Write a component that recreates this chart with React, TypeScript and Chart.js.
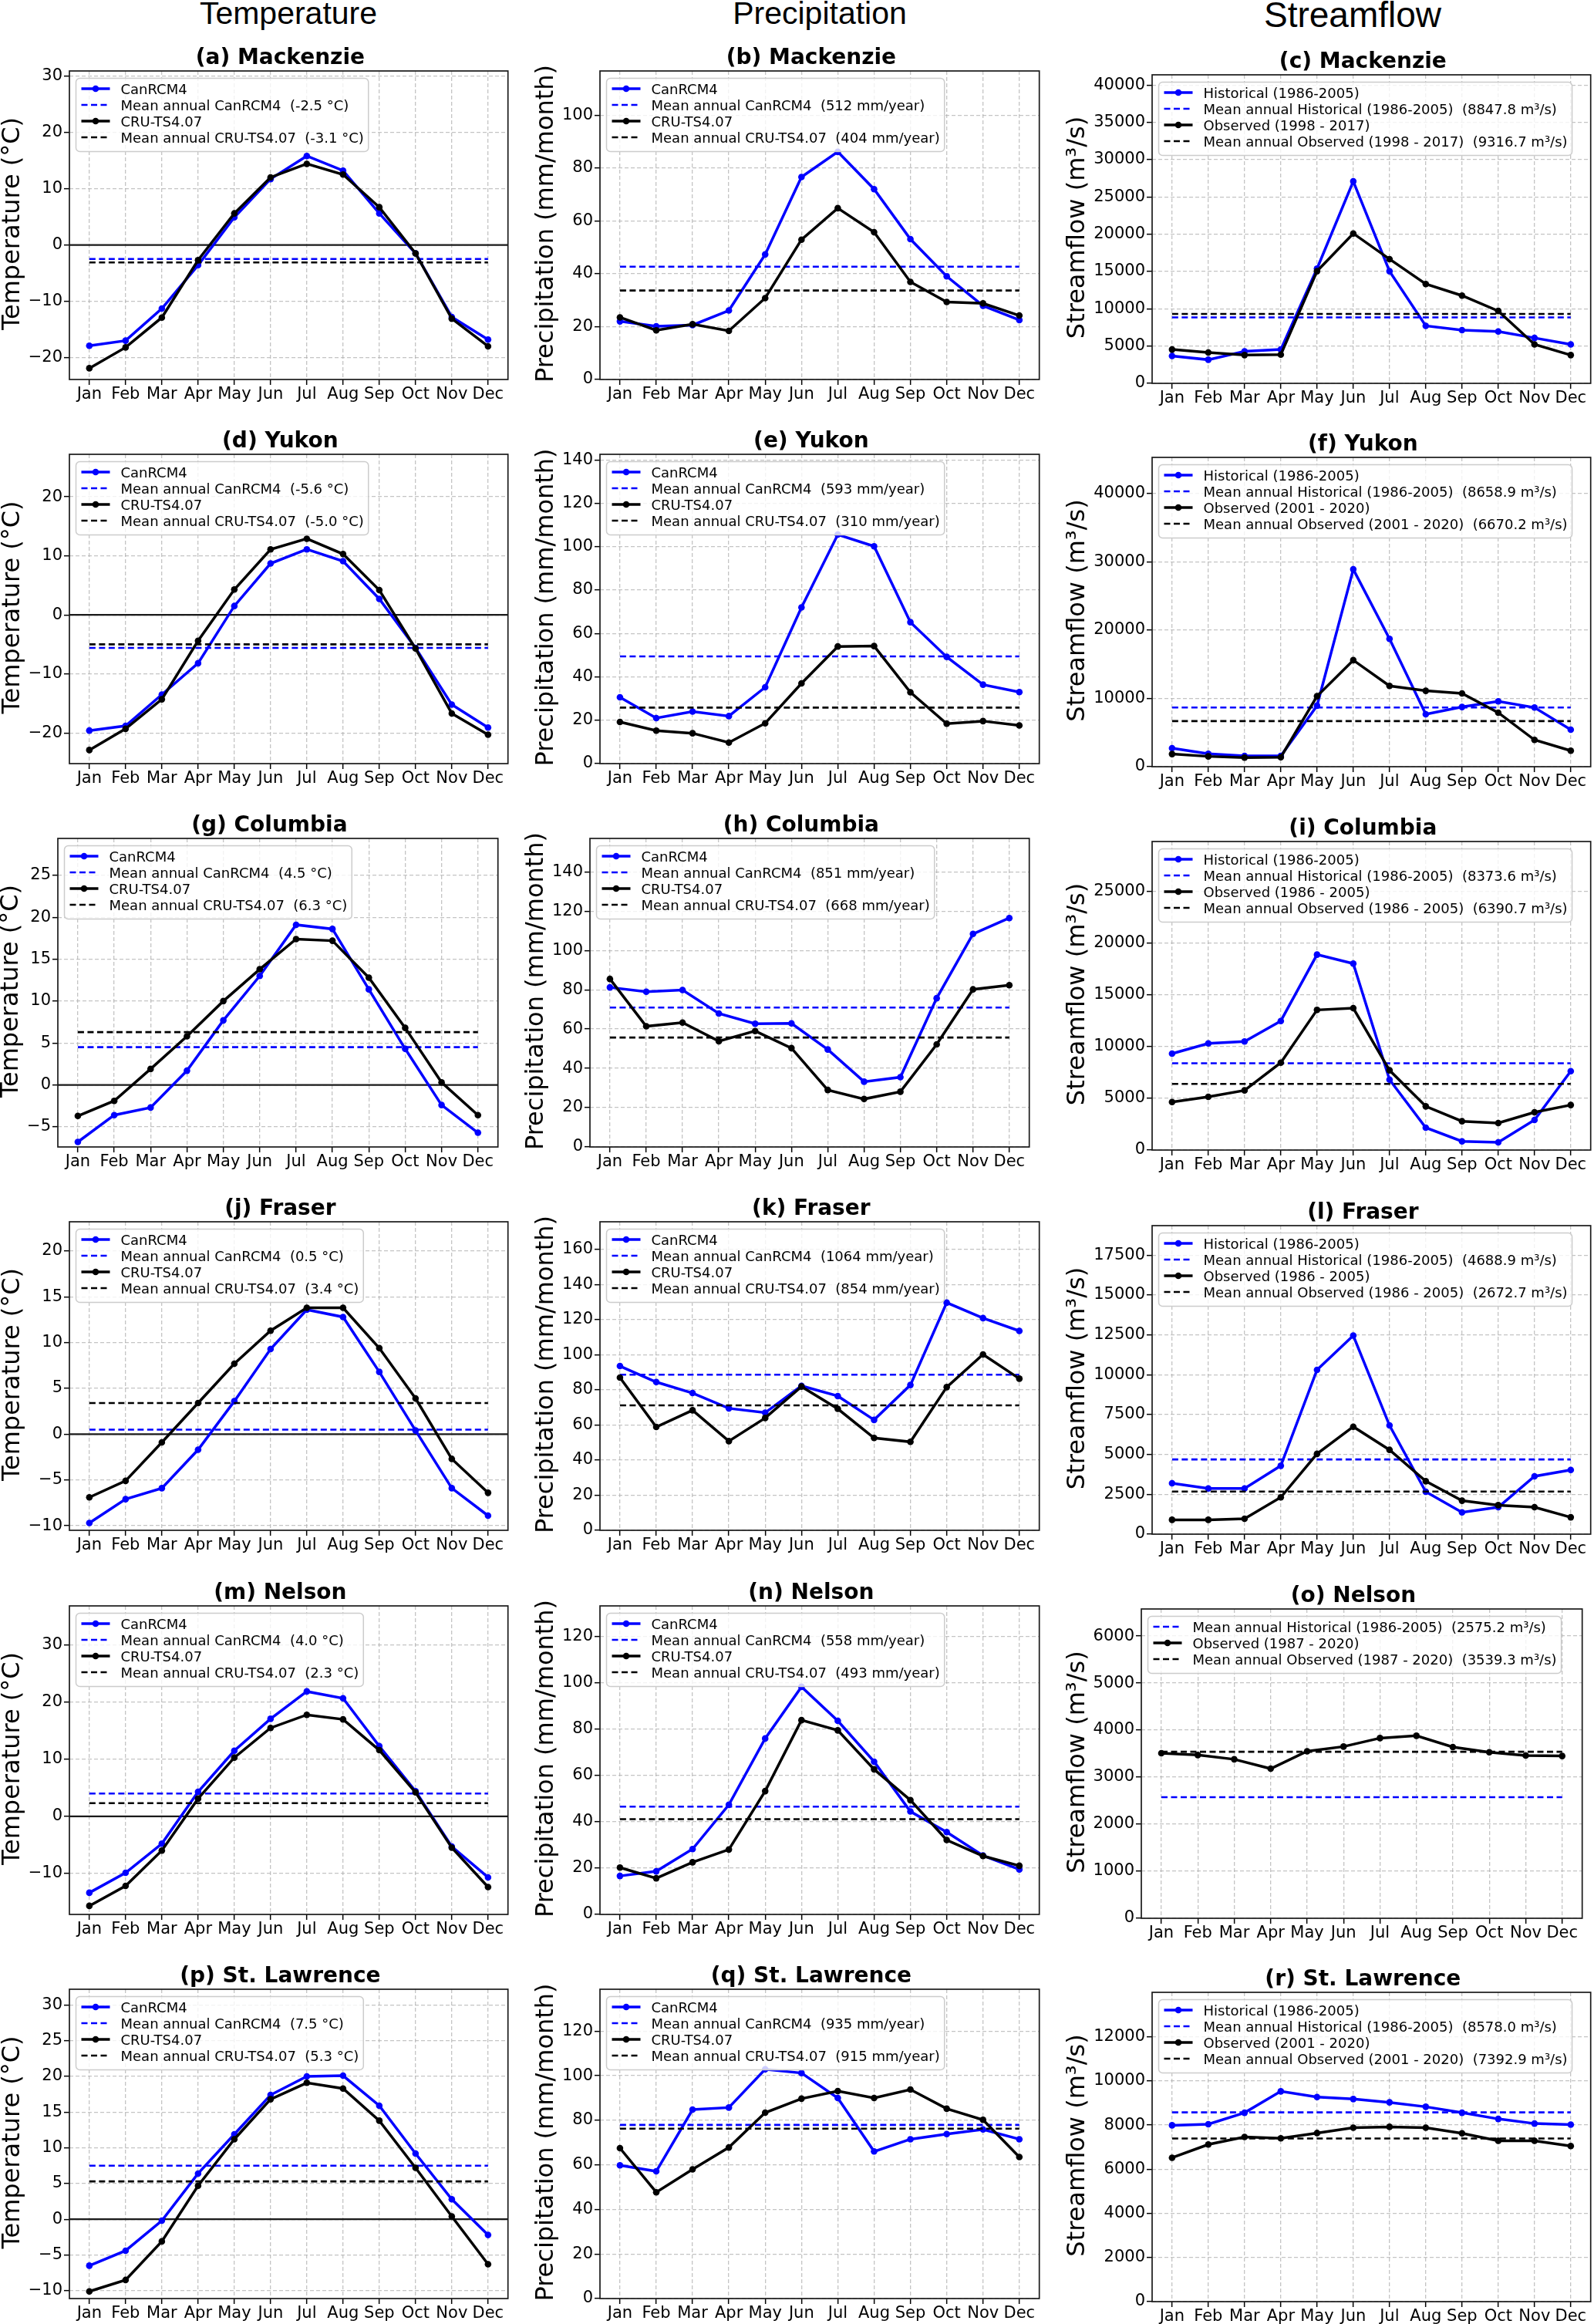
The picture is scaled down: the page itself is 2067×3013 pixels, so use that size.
import React, { useEffect, useRef } from 'react';
import { Chart, registerables } from 'chart.js';

Chart.register(...registerables);

const FONT = "'DejaVu Sans'";

const months = ['Jan', 'Feb', 'Mar', 'Apr', 'May', 'Jun', 'Jul', 'Aug', 'Sep', 'Oct', 'Nov', 'Dec'];
const basins = ['Mackenzie', 'Yukon', 'Columbia', 'Fraser', 'Nelson', 'St. Lawrence'];
const letters = ['a', 'b', 'c', 'd', 'e', 'f', 'g', 'h', 'i', 'j', 'k', 'l', 'm', 'n', 'o', 'p', 'q', 'r'];
const columnHeaders = ['Temperature', 'Precipitation', 'Streamflow'];

// ---------- Temperature (°C) ----------
const tempCanMackenzie = [-17.9, -17.0, -11.3, -3.6, 4.9, 11.7, 15.8, 13.2, 5.6, -1.5, -12.8, -16.8];
const tempCruMackenzie = [-21.9, -18.2, -12.9, -2.7, 5.6, 12.0, 14.4, 12.5, 6.7, -1.5, -13.1, -18.0];
const tempCanYukon = [-19.6, -18.8, -13.5, -8.2, 1.5, 8.7, 11.1, 9.1, 2.7, -5.6, -15.2, -19.1];
const tempCruYukon = [-22.9, -19.3, -14.3, -4.4, 4.3, 11.1, 12.9, 10.3, 4.2, -5.7, -16.7, -20.3];
const tempCanColumbia = [-6.8, -3.6, -2.7, 1.7, 7.7, 13.0, 19.1, 18.6, 11.4, 4.3, -2.4, -5.7];
const tempCruColumbia = [-3.7, -1.9, 1.9, 5.8, 10.0, 13.8, 17.4, 17.2, 12.8, 6.8, 0.3, -3.6];
const tempCanFraser = [-9.7, -7.1, -5.9, -1.7, 3.6, 9.3, 13.6, 12.8, 6.8, 0.4, -5.9, -8.9];
const tempCruFraser = [-6.9, -5.1, -0.9, 3.4, 7.7, 11.3, 13.8, 13.8, 9.4, 3.9, -2.7, -6.4];
const tempCanNelson = [-13.4, -9.9, -4.8, 4.3, 11.5, 17.1, 21.9, 20.7, 12.3, 4.4, -5.3, -10.7];
const tempCruNelson = [-15.7, -12.2, -6.0, 3.1, 10.3, 15.5, 17.8, 17.0, 11.6, 4.2, -5.5, -12.4];
const tempCanStLawrence = [-6.5, -4.4, -0.2, 6.4, 11.9, 17.4, 20.0, 20.1, 15.9, 9.2, 2.8, -2.2];
const tempCruStLawrence = [-10.1, -8.5, -3.1, 4.7, 11.2, 16.8, 19.1, 18.3, 13.8, 7.2, 0.4, -6.3];
const tempMeanCan = [-2.5, -5.6, 4.5, 0.5, 4.0, 7.5];
const tempMeanCru = [-3.1, -5.0, 6.3, 3.4, 2.3, 5.3];

// ---------- Precipitation (mm/month) ----------
const precCanMackenzie = [22.0, 20.1, 20.6, 26.1, 47.3, 76.6, 86.1, 72.0, 53.1, 39.0, 27.9, 22.5];
const precCruMackenzie = [23.5, 18.6, 20.9, 18.4, 30.8, 52.9, 64.8, 55.7, 36.9, 29.3, 28.8, 24.2];
const precCanYukon = [30.6, 21.0, 24.0, 21.9, 35.2, 72.0, 105.6, 100.2, 65.2, 49.2, 36.4, 33.0];
const precCruYukon = [19.2, 15.2, 14.0, 9.7, 18.6, 37.0, 54.0, 54.2, 32.9, 18.4, 19.6, 17.6];
const precCanColumbia = [81.2, 79.0, 79.9, 67.9, 62.7, 62.9, 49.6, 33.2, 35.5, 75.7, 108.4, 116.5];
const precCruColumbia = [85.5, 61.4, 63.3, 53.8, 59.0, 50.3, 29.0, 24.4, 28.1, 52.2, 80.2, 82.3];
const precCanFraser = [93.6, 84.5, 78.2, 69.5, 67.0, 82.3, 76.5, 62.9, 82.8, 129.7, 120.9, 113.6];
const precCruFraser = [87.0, 58.9, 68.4, 50.8, 64.0, 81.9, 69.2, 52.6, 50.4, 81.6, 100.2, 86.4];
const precCanNelson = [16.6, 18.6, 28.2, 47.3, 75.9, 98.2, 83.5, 65.9, 44.4, 35.5, 25.4, 19.4];
const precCruNelson = [20.2, 15.6, 22.5, 28.0, 53.2, 83.8, 79.4, 62.6, 49.3, 32.1, 25.2, 21.0];
const precCanStLawrence = [59.8, 57.1, 84.8, 85.7, 102.9, 101.2, 90.0, 66.0, 71.5, 73.8, 75.9, 71.5];
const precCruStLawrence = [67.5, 47.7, 58.0, 67.8, 83.4, 89.7, 93.1, 90.0, 93.8, 85.2, 80.2, 63.5];
const precAnnualCan = [512, 593, 851, 1064, 558, 935];
const precAnnualCru = [404, 310, 668, 854, 493, 915];

// ---------- Streamflow (m³/s) ----------
const flowHistMackenzie = [3680, 3170, 4300, 4540, 15390, 27090, 15040, 7710, 7130, 6950, 6090, 5230];
const flowObsMackenzie = [4540, 4130, 3790, 3860, 15040, 20100, 16660, 13320, 11770, 9710, 5230, 3790];
const flowHistYukon = [2710, 1880, 1580, 1580, 8930, 28890, 18720, 7680, 8740, 9570, 8660, 5420];
const flowObsYukon = [1850, 1510, 1320, 1390, 10320, 15590, 11830, 11110, 10730, 7910, 3920, 2340];
const flowHistColumbia = [9310, 10300, 10480, 12460, 18870, 18000, 6800, 2160, 840, 750, 2910, 7620];
const flowObsColumbia = [4640, 5140, 5760, 8440, 13530, 13700, 7700, 4220, 2780, 2610, 3650, 4350];
const flowHistFraser = [3190, 2870, 2870, 4290, 10310, 12460, 6820, 2660, 1370, 1690, 3630, 4030];
const flowObsFraser = [900, 900, 970, 2310, 5040, 6740, 5290, 3320, 2100, 1820, 1690, 1060];
const flowObsNelson = [3510, 3470, 3380, 3180, 3550, 3650, 3830, 3880, 3640, 3530, 3460, 3450];
const flowHistStLawrence = [7990, 8040, 8560, 9530, 9270, 9180, 9030, 8830, 8560, 8280, 8070, 8020];
const flowObsStLawrence = [6520, 7120, 7460, 7400, 7640, 7880, 7920, 7880, 7630, 7290, 7290, 7050];
const flowMeanHist = [8847.8, 8658.9, 8373.6, 4688.9, 2575.2, 8578.0];
const flowMeanObs = [9316.7, 6670.2, 6390.7, 2672.7, 3539.3, 7392.9];
const obsPeriods = ['1998 - 2017', '2001 - 2020', '1986 - 2005', '1986 - 2005', '1987 - 2020', '2001 - 2020'];

const tempCan = [tempCanMackenzie, tempCanYukon, tempCanColumbia, tempCanFraser, tempCanNelson, tempCanStLawrence];
const tempCru = [tempCruMackenzie, tempCruYukon, tempCruColumbia, tempCruFraser, tempCruNelson, tempCruStLawrence];
const precCan = [precCanMackenzie, precCanYukon, precCanColumbia, precCanFraser, precCanNelson, precCanStLawrence];
const precCru = [precCruMackenzie, precCruYukon, precCruColumbia, precCruFraser, precCruNelson, precCruStLawrence];
const flowHist = [flowHistMackenzie, flowHistYukon, flowHistColumbia, flowHistFraser, null, flowHistStLawrence];
const flowObs = [flowObsMackenzie, flowObsYukon, flowObsColumbia, flowObsFraser, flowObsNelson, flowObsStLawrence];

// ---------- Axis ticks ----------
const tempTicks = [
  [-20, -10, 0, 10, 20, 30],
  [-20, -10, 0, 10, 20],
  [-5, 0, 5, 10, 15, 20, 25],
  [-10, -5, 0, 5, 10, 15, 20],
  [-10, 0, 10, 20, 30],
  [-10, -5, 0, 5, 10, 15, 20, 25, 30],
];
const precTicks = [
  [0, 20, 40, 60, 80, 100],
  [0, 20, 40, 60, 80, 100, 120, 140],
  [0, 20, 40, 60, 80, 100, 120, 140],
  [0, 20, 40, 60, 80, 100, 120, 140, 160],
  [0, 20, 40, 60, 80, 100, 120],
  [0, 20, 40, 60, 80, 100, 120],
];
const flowTicks = [
  [0, 5000, 10000, 15000, 20000, 25000, 30000, 35000, 40000],
  [0, 10000, 20000, 30000, 40000],
  [0, 5000, 10000, 15000, 20000, 25000],
  [0, 2500, 5000, 7500, 10000, 12500, 15000, 17500],
  [0, 1000, 2000, 3000, 4000, 5000, 6000],
  [0, 2000, 4000, 6000, 8000, 10000, 12000],
];

// ---------- Axis limits ----------
const tempRange = [[-23.9, 30.9], [-25.2, 27.2], [-7.4, 29.4], [-10.5, 23.2], [-17.2, 36.9], [-11.1, 32.2]];
const precMax = [116.7, 142.6, 157, 175.8, 133.1, 138.8];
const flowMax = [41377, 45273, 29791, 19355, 6575, 14016];

// ---------- Layout (plot boxes: left, top, right, bottom) ----------
const boxes = [
  [[90, 92, 659, 492], [778, 92, 1348, 492], [1494, 97, 2063, 497]],
  [[90, 589, 659, 990], [778, 589, 1348, 990], [1494, 593, 2063, 994]],
  [[75, 1087, 646, 1487], [765, 1087, 1335, 1487], [1494, 1091, 2063, 1491]],
  [[90, 1584, 659, 1984], [778, 1584, 1348, 1984], [1494, 1589, 2063, 1989]],
  [[90, 2082, 659, 2482], [778, 2082, 1348, 2482], [1480, 2086, 2052, 2487]],
  [[90, 2579, 659, 2980], [778, 2579, 1348, 2980], [1494, 2583, 2063, 2984]],
];

type Series = { label: string; values: number[]; color: string; dashed: boolean };
type Spec = {
  key: string;
  box: number[];
  title: string;
  yLabel: string;
  yMin: number;
  yMax: number;
  yTicks: number[];
  series: Series[];
  zeroLine: boolean;
};

const flat = (v: number) => months.map(() => v);

function buildSpecs(): Spec[] {
  const specs: Spec[] = [];
  for (let r = 0; r < 6; r++) {
    const basin = basins[r];
    specs.push({
      key: 't' + r,
      box: boxes[r][0],
      title: `(${letters[r * 3]}) ${basin}`,
      yLabel: 'Temperature (°C)',
      yMin: tempRange[r][0],
      yMax: tempRange[r][1],
      yTicks: tempTicks[r],
      zeroLine: true,
      series: [
        { label: 'CanRCM4', values: tempCan[r], color: '#0000ff', dashed: false },
        { label: `Mean annual CanRCM4  (${tempMeanCan[r].toFixed(1)} °C)`, values: flat(tempMeanCan[r]), color: '#0000ff', dashed: true },
        { label: 'CRU-TS4.07', values: tempCru[r], color: '#000000', dashed: false },
        { label: `Mean annual CRU-TS4.07  (${tempMeanCru[r].toFixed(1)} °C)`, values: flat(tempMeanCru[r]), color: '#000000', dashed: true },
      ],
    });
    specs.push({
      key: 'p' + r,
      box: boxes[r][1],
      title: `(${letters[r * 3 + 1]}) ${basin}`,
      yLabel: 'Precipitation (mm/month)',
      yMin: 0,
      yMax: precMax[r],
      yTicks: precTicks[r],
      zeroLine: false,
      series: [
        { label: 'CanRCM4', values: precCan[r], color: '#0000ff', dashed: false },
        { label: `Mean annual CanRCM4  (${precAnnualCan[r]} mm/year)`, values: flat(precAnnualCan[r] / 12), color: '#0000ff', dashed: true },
        { label: 'CRU-TS4.07', values: precCru[r], color: '#000000', dashed: false },
        { label: `Mean annual CRU-TS4.07  (${precAnnualCru[r]} mm/year)`, values: flat(precAnnualCru[r] / 12), color: '#000000', dashed: true },
      ],
    });
    const fs: Series[] = [];
    const hist = flowHist[r];
    if (hist) fs.push({ label: 'Historical (1986-2005)', values: hist, color: '#0000ff', dashed: false });
    fs.push({ label: `Mean annual Historical (1986-2005)  (${flowMeanHist[r].toFixed(1)} m³/s)`, values: flat(flowMeanHist[r]), color: '#0000ff', dashed: true });
    fs.push({ label: `Observed (${obsPeriods[r]})`, values: flowObs[r], color: '#000000', dashed: false });
    fs.push({ label: `Mean annual Observed (${obsPeriods[r]})  (${flowMeanObs[r].toFixed(1)} m³/s)`, values: flat(flowMeanObs[r]), color: '#000000', dashed: true });
    specs.push({
      key: 'f' + r,
      box: boxes[r][2],
      title: `(${letters[r * 3 + 2]}) ${basin}`,
      yLabel: 'Streamflow (m³/s)',
      yMin: 0,
      yMax: flowMax[r],
      yTicks: flowTicks[r],
      zeroLine: false,
      series: fs,
    });
  }
  return specs;
}

const fmtTick = (v: number) => (v < 0 ? '\u2212' + Math.abs(v) : String(v));

const LINE_W = 3.5;
const MEAN_W = 2.6;
const DASH = [8, 4.5];
const POINT_R = 4.3;

function decorPlugin(s: Spec) {
  return {
    id: 'decor',
    beforeDatasetsDraw(chart: any) {
      if (!s.zeroLine) return;
      const { ctx, chartArea: ca } = chart;
      const y = chart.scales.y.getPixelForValue(0);
      ctx.save();
      ctx.strokeStyle = '#1a1a1a';
      ctx.lineWidth = 2.2;
      ctx.beginPath();
      ctx.moveTo(ca.left, y);
      ctx.lineTo(ca.right, y);
      ctx.stroke();
      ctx.restore();
    },
    afterDatasetsDraw(chart: any) {
      const { ctx, chartArea: ca } = chart;
      ctx.save();
      ctx.strokeStyle = '#1a1a1a';
      ctx.lineWidth = 1.7;
      ctx.strokeRect(ca.left, ca.top, ca.right - ca.left, ca.bottom - ca.top);
      ctx.restore();
    },
    afterDraw(chart: any) {
      const { ctx, chartArea: ca } = chart;
      ctx.save();
      // legend
      ctx.font = `18px ${FONT}`;
      const entries = s.series;
      const pad = 7, handleLen = 37, textPad = 14, rowH = 21;
      const maxW = Math.max(...entries.map((e) => ctx.measureText(e.label).width));
      const fx = ca.left + 8.5;
      const fy = ca.top + 9.5;
      const fw = pad + handleLen + textPad + maxW + 6;
      const fh = entries.length * rowH + 11;
      const rad = 5;
      ctx.beginPath();
      ctx.moveTo(fx + rad, fy);
      ctx.lineTo(fx + fw - rad, fy);
      ctx.arcTo(fx + fw, fy, fx + fw, fy + rad, rad);
      ctx.lineTo(fx + fw, fy + fh - rad);
      ctx.arcTo(fx + fw, fy + fh, fx + fw - rad, fy + fh, rad);
      ctx.lineTo(fx + rad, fy + fh);
      ctx.arcTo(fx, fy + fh, fx, fy + fh - rad, rad);
      ctx.lineTo(fx, fy + rad);
      ctx.arcTo(fx, fy, fx + rad, fy, rad);
      ctx.closePath();
      ctx.fillStyle = 'rgba(255,255,255,0.8)';
      ctx.fill();
      ctx.strokeStyle = '#cccccc';
      ctx.lineWidth = 1.5;
      ctx.stroke();
      entries.forEach((e, i) => {
        const base = fy + 20 + i * rowH;
        const hy = base - 6.5;
        const hx = fx + pad;
        ctx.strokeStyle = e.color;
        ctx.lineWidth = e.dashed ? MEAN_W : LINE_W;
        ctx.setLineDash(e.dashed ? DASH : []);
        ctx.beginPath();
        ctx.moveTo(hx, hy);
        ctx.lineTo(hx + handleLen, hy);
        ctx.stroke();
        ctx.setLineDash([]);
        if (!e.dashed) {
          ctx.fillStyle = e.color;
          ctx.beginPath();
          ctx.arc(hx + handleLen / 2, hy, POINT_R, 0, Math.PI * 2);
          ctx.fill();
        }
        ctx.fillStyle = '#000';
        ctx.textAlign = 'left';
        ctx.textBaseline = 'alphabetic';
        ctx.fillText(e.label, hx + handleLen + textPad, base);
      });
      // title
      ctx.font = `bold 28px ${FONT}`;
      ctx.fillStyle = '#000';
      ctx.textAlign = 'center';
      ctx.textBaseline = 'alphabetic';
      ctx.fillText(s.title, (ca.left + ca.right) / 2 - 11, ca.top - 9);
      // y label
      ctx.font = `21px ${FONT}`;
      const tickW = Math.max(...s.yTicks.map((v) => ctx.measureText(fmtTick(v)).width));
      ctx.font = `32px ${FONT}`;
      ctx.translate(ca.left - tickW - 21, (ca.top + ca.bottom) / 2 - 2);
      ctx.rotate(-Math.PI / 2);
      ctx.textAlign = 'center';
      ctx.textBaseline = 'alphabetic';
      ctx.fillText(s.yLabel, 0, 0);
      ctx.restore();
    },
  };
}

function makeConfig(s: Spec, yWidth: number): any {
  const n = s.series.length;
  const gridCommon = {
    color: 'rgba(176,176,176,0.75)',
    lineWidth: 1.3,
    drawTicks: true,
    tickLength: 7,
    tickColor: '#000',
    tickWidth: 1.5,
  };
  return {
    type: 'line',
    data: {
      datasets: s.series.map((se, i) => ({
        label: se.label,
        data: se.values.map((v, j) => ({ x: j, y: v })),
        borderColor: se.color,
        backgroundColor: se.color,
        borderWidth: se.dashed ? MEAN_W : LINE_W,
        borderDash: se.dashed ? DASH : [],
        pointRadius: se.dashed ? 0 : POINT_R,
        pointHoverRadius: 0,
        pointBorderWidth: 0,
        pointBackgroundColor: se.color,
        tension: 0,
        fill: false,
        order: n - i,
      })),
    },
    options: {
      animation: false,
      responsive: false,
      devicePixelRatio: 1,
      events: [],
      layout: { padding: { left: 0, top: 60, right: 4, bottom: 0 } },
      plugins: {
        legend: { display: false },
        title: { display: false },
        tooltip: { enabled: false },
      },
      scales: {
        x: {
          type: 'linear',
          min: -0.55,
          max: 11.55,
          afterBuildTicks: (sc: any) => {
            sc.ticks = months.map((_, i) => ({ value: i }));
          },
          afterFit: (sc: any) => {
            sc.height = 40;
          },
          ticks: {
            autoSkip: false,
            maxRotation: 0,
            minRotation: 0,
            padding: 0,
            color: '#000',
            font: { size: 21, family: FONT },
            callback: (v: any) => months[Math.round(Number(v))] ?? '',
          },
          grid: gridCommon,
          border: { display: false, dash: [5, 3] },
        },
        y: {
          type: 'linear',
          min: s.yMin,
          max: s.yMax,
          afterBuildTicks: (sc: any) => {
            sc.ticks = s.yTicks.map((v) => ({ value: v }));
          },
          afterFit: (sc: any) => {
            sc.width = yWidth;
          },
          ticks: {
            autoSkip: false,
            padding: 2,
            color: '#000',
            font: { size: 21, family: FONT },
            callback: (v: any) => fmtTick(Number(v)),
          },
          grid: gridCommon,
          border: { display: false, dash: [5, 3] },
        },
      },
    },
    plugins: [decorPlugin(s)],
  };
}

function Panel({ spec }: { spec: Spec }) {
  const ref = useRef<HTMLCanvasElement | null>(null);
  const [l, t, r, b] = spec.box;
  const L = Math.min(l, 130);
  const w = r - l + L + 4;
  const h = b - t + 100;
  useEffect(() => {
    if (!ref.current) return;
    const chart = new Chart(ref.current, makeConfig(spec, L));
    return () => chart.destroy();
  }, []);
  return (
    <canvas
      ref={ref}
      width={w}
      height={h}
      style={{ position: 'absolute', left: l - L, top: t - 60, width: w, height: h }}
    />
  );
}

const headerPos = [
  { cx: 374, top: -3, size: 41 },
  { cx: 1063, top: -3, size: 41 },
  { cx: 1754, top: -4, size: 46 },
];

export default function App() {
  const specs = buildSpecs();
  return (
    <div
      style={{
        position: 'absolute',
        left: 0,
        top: 0,
        width: 2067,
        height: 3013,
        overflow: 'hidden',
        background: '#fff',
      }}
    >
      {columnHeaders.map((hd, i) => (
        <div
          key={hd}
          style={{
            position: 'absolute',
            left: headerPos[i].cx - 300,
            top: headerPos[i].top,
            width: 600,
            textAlign: 'center',
            fontFamily: "'Liberation Sans', Arial, sans-serif",
            fontSize: headerPos[i].size,
            lineHeight: headerPos[i].size + 'px',
            color: '#000',
          }}
        >
          {hd}
        </div>
      ))}
      {specs.map((s) => (
        <Panel key={s.key} spec={s} />
      ))}
    </div>
  );
}
